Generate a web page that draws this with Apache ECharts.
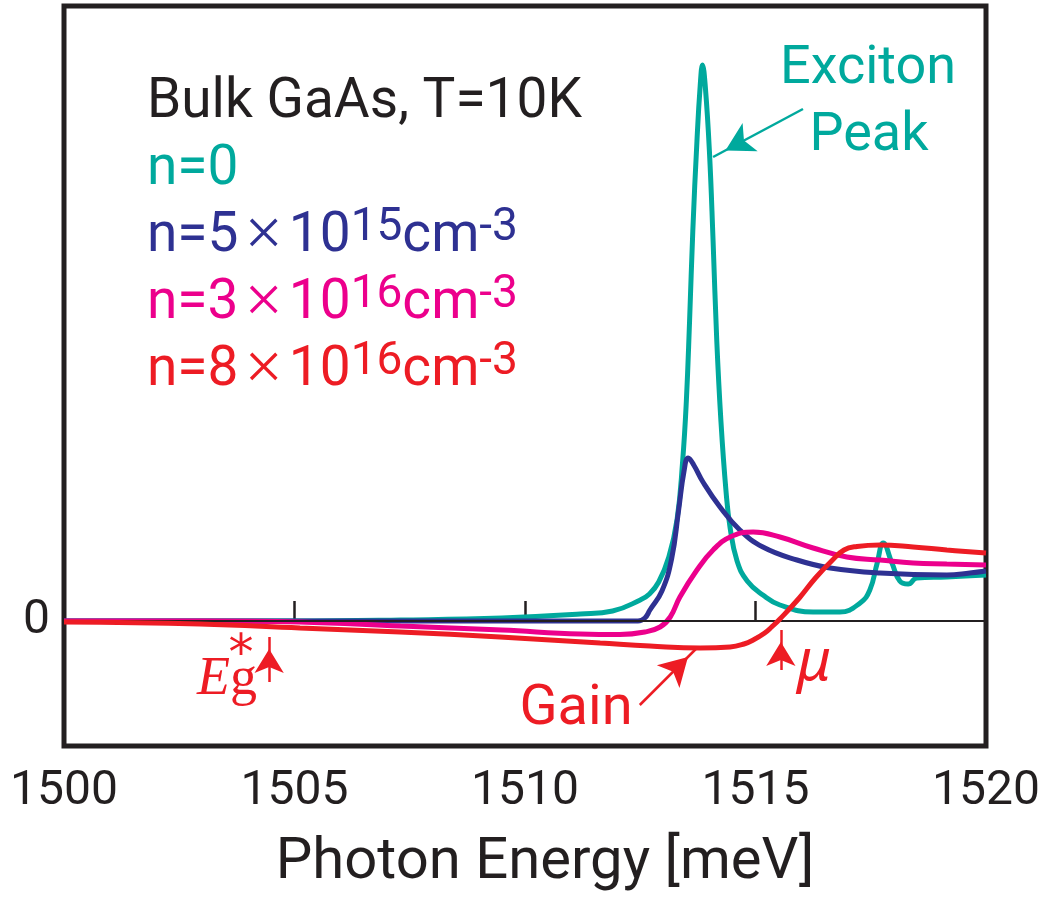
<!DOCTYPE html>
<html>
<head>
<meta charset="utf-8">
<script src="https://cdn.jsdelivr.net/npm/echarts@6.0.0/dist/echarts.min.js"></script>
<style>
html, body { margin: 0; padding: 0; background: #fff; }
#chart { width: 1045px; height: 906px; }
</style>
</head>
<body>
<div id="chart"></div>
<script>
// [photon energy (meV), signal]
const curveN0 = [
    [1500, 0], [1505, 0], [1507.3, 0.1], [1509.5, 0.3], [1511.2, 0.7], [1511.9, 1.0],
    [1512.5, 2.1], [1512.7, 2.7], [1512.9, 3.9], [1513.12, 6.4], [1513.3, 10.2], [1513.42, 16.0],
    [1513.5, 22.0], [1513.57, 30.0], [1513.64, 39.0], [1513.73, 48.0], [1513.8, 53.5], [1513.85, 55.6],
    [1513.91, 53.5], [1514.0, 47.0], [1514.08, 38.0], [1514.16, 28.0], [1514.25, 20.0], [1514.36, 13.0],
    [1514.45, 9.3], [1514.6, 6.0], [1514.82, 4.0], [1515.16, 2.6], [1515.53, 1.6], [1516.25, 0.9],
    [1516.83, 0.9], [1517.27, 1.8], [1517.48, 3.1], [1517.64, 5.8], [1517.77, 7.8], [1517.96, 5.8],
    [1518.13, 4.0], [1518.31, 3.7], [1518.5, 4.3], [1519.15, 4.4], [1520, 4.6]
];
const curveN5e15 = [
    [1500, 0], [1510, 0], [1512.45, 0], [1512.6, 0.3], [1512.71, 1.1], [1512.97, 3.0],
    [1513.18, 6.2], [1513.33, 11.0], [1513.45, 15.0], [1513.54, 16.3], [1513.66, 15.6], [1513.86, 13.9],
    [1514.23, 11.4], [1514.66, 9.1], [1515.16, 7.4], [1515.9, 6.1], [1516.62, 5.3], [1517.7, 4.8],
    [1519.15, 4.6], [1519.65, 4.8], [1520, 5.0]
];
const curveN3e16 = [
    [1500, 0], [1503, 0], [1505.1, -0.1], [1507.3, -0.5], [1509.5, -0.9], [1511.2, -1.3],
    [1512.06, -1.35], [1512.6, -1.1], [1512.93, -0.6], [1513.15, 0.4], [1513.36, 2.4], [1513.73, 5.1],
    [1514.08, 7.1], [1514.45, 8.4], [1514.95, 8.9], [1515.53, 8.4], [1516.25, 7.3], [1516.98, 6.4],
    [1517.7, 6.1], [1518.42, 5.8], [1519.15, 5.7], [1520, 5.6]
];
const curveN8e16 = [
    [1500, -0.1], [1502.95, -0.3], [1505.12, -0.7], [1507.29, -1.1], [1509.46, -1.6], [1511.63, -2.2],
    [1512.71, -2.5], [1513.8, -2.7], [1514.45, -2.6], [1514.75, -2.3], [1514.95, -1.9], [1515.2, -1.2],
    [1515.35, -0.6], [1515.53, 0.2], [1515.95, 2.3], [1516.3, 4.3], [1516.65, 6.0], [1516.92, 7.1],
    [1517.2, 7.45], [1517.7, 7.6], [1518.42, 7.4], [1519.15, 7.1], [1520, 6.8]
];

const xTickLabels = [1500, 1505, 1510, 1515, 1520];
const xTickMarks = [1505, 1510, 1515];
const yTickLabels = [0];

// annotation arrows, [from, to] in data units
const excitonArrow = [[1516.03, 51.2], [1514.08, 46.4]];
const gainArrow = [[1512.49, -8.4], [1513.75, -2.6]];
const muArrow = [[1515.55, -4.9], [1515.55, -0.9]];
const egArrow = [[1504.45, -6.1], [1504.45, -1.6]];

const C = {
    black: '#231F20',
    teal: '#00A99D',
    navy: '#2E3192',
    magenta: '#EC008C',
    red: '#ED1C24'
};
const SANS = 'Roboto, "Open Sans", sans-serif';
const SERIF = '"Liberation Serif", serif';

function lineSeries(name, data, color, z) {
    return {
        name: name,
        type: 'line',
        data: data,
        z: z,
        symbol: 'none',
        smooth: 0.45,
        lineStyle: { color: color, width: 5 },
        itemStyle: { color: color },
        animation: false
    };
}

function arrowItem(arrow, size) {
    return [
        { coord: arrow[0], symbol: 'none' },
        { coord: arrow[1], symbol: 'arrow', symbolSize: size, symbolOffset: [0, '50%'] }
    ];
}

function arrowMarks(color, items) {
    return {
        silent: true,
        animation: false,
        label: { show: false },
        emphasis: { disabled: true },
        lineStyle: { color: color, width: 2.5, type: 'solid' },
        data: items
    };
}

// density label with superscripts
function densityText(mant, exp, color, baseline) {
    return {
        type: 'text',
        x: 147,
        y: baseline - 16,
        style: {
            text: `{b|n=${mant}}{x|\u00d7}{b|10}{s|${exp}}{b|cm}{s|-3}`,
            align: 'left',
            verticalAlign: 'middle',
            rich: {
                b: { fontSize: 55, fontFamily: SANS, fill: color, lineHeight: 64 },
                x: { fontSize: 68, fontFamily: SERIF, fill: color, lineHeight: 64, padding: [0, 6, 0, 6] },
                s: { fontSize: 46, fontFamily: SANS, fill: color, lineHeight: 38, verticalAlign: 'top' }
            }
        }
    };
}

function plainText(text, x, y, color, size, align, extra) {
    return {
        type: 'text',
        x: x,
        y: y,
        style: Object.assign({
            text: text,
            fill: color,
            fontSize: size,
            fontFamily: SANS,
            align: align || 'left',
            verticalAlign: 'middle'
        }, extra || {})
    };
}

const chart = echarts.init(document.getElementById('chart'));

const teal = lineSeries('n=0', curveN0, C.teal, 2);
teal.markLine = {
    silent: true,
    animation: false,
    symbol: 'none',
    label: { show: false },
    lineStyle: { color: C.black, width: 2, type: 'solid' },
    data: [{ yAxis: 0 }]
};
const tealArrow = lineSeries('arrow-exciton', [], C.teal, 2);
tealArrow.markLine = arrowMarks(C.teal, [arrowItem(excitonArrow, [24, 28])]);

const navy = lineSeries('n=5e15', curveN5e15, C.navy, 3);
const magenta = lineSeries('n=3e16', curveN3e16, C.magenta, 4);
const red = lineSeries('n=8e16', curveN8e16, C.red, 5);
red.markLine = arrowMarks(C.red, [
    arrowItem(gainArrow, [24, 28]),
    arrowItem(muArrow, [22, 24]),
    arrowItem(egArrow, [22, 24])
]);

chart.setOption({
    backgroundColor: '#fff',
    animation: false,
    grid: {
        left: 64,
        right: 59,
        top: 6,
        bottom: 160,
        outerBoundsMode: 'none',
        containLabel: false,
        show: true,
        borderColor: C.black,
        borderWidth: 5,
        backgroundColor: 'transparent'
    },
    xAxis: {
        type: 'value',
        min: 1500,
        max: 1520,
        axisLine: { show: false },
        splitLine: { show: false },
        axisTick: {
            show: true,
            inside: true,
            length: 20,
            customValues: xTickMarks,
            lineStyle: { color: C.black, width: 2.5 }
        },
        axisLabel: {
            customValues: xTickLabels,
            formatter: v => String(v),
            margin: 22,
            color: C.black,
            fontSize: 48,
            fontFamily: SANS
        }
    },
    yAxis: {
        type: 'value',
        min: -12.5,
        max: 61.5,
        axisLine: { show: false },
        axisTick: { show: false },
        splitLine: { show: false },
        axisLabel: {
            customValues: yTickLabels,
            margin: 14,
            color: C.black,
            fontSize: 48,
            fontFamily: SANS
        }
    },
    graphic: [
        plainText('Photon Energy [meV]', 545, 863, C.black, 58, 'center'),
        plainText('Bulk GaAs, T=10K', 147, 103, C.black, 55),
        plainText('n=0', 147, 170, C.teal, 55),
        densityText('5', '15', C.navy, 253),
        densityText('3', '16', C.magenta, 320),
        densityText('8', '16', C.red, 387),
        plainText('Exciton', 868, 69, C.teal, 54, 'center'),
        plainText('Peak', 869, 136, C.teal, 54, 'center'),
        plainText('Gain', 576, 710, C.red, 56, 'center'),
        plainText('\u03bc', 814, 663, C.red, 58, 'center', { fontFamily: '"Noto Sans", sans-serif', fontStyle: 'italic' }),
        {
            type: 'text',
            x: 197,
            y: 680,
            style: {
                text: '{e|E}{g|g}',
                align: 'left',
                verticalAlign: 'middle',
                rich: {
                    e: { fontSize: 54, fontFamily: SERIF, fontStyle: 'italic', fill: C.red },
                    g: { fontSize: 54, fontFamily: SERIF, fill: C.red }
                }
            }
        },
        plainText('*', 241, 656, C.red, 50, 'center', { fontFamily: '"DejaVu Sans", sans-serif' })
    ],
    series: [teal, tealArrow, navy, magenta, red]
});
</script>
</body>
</html>
